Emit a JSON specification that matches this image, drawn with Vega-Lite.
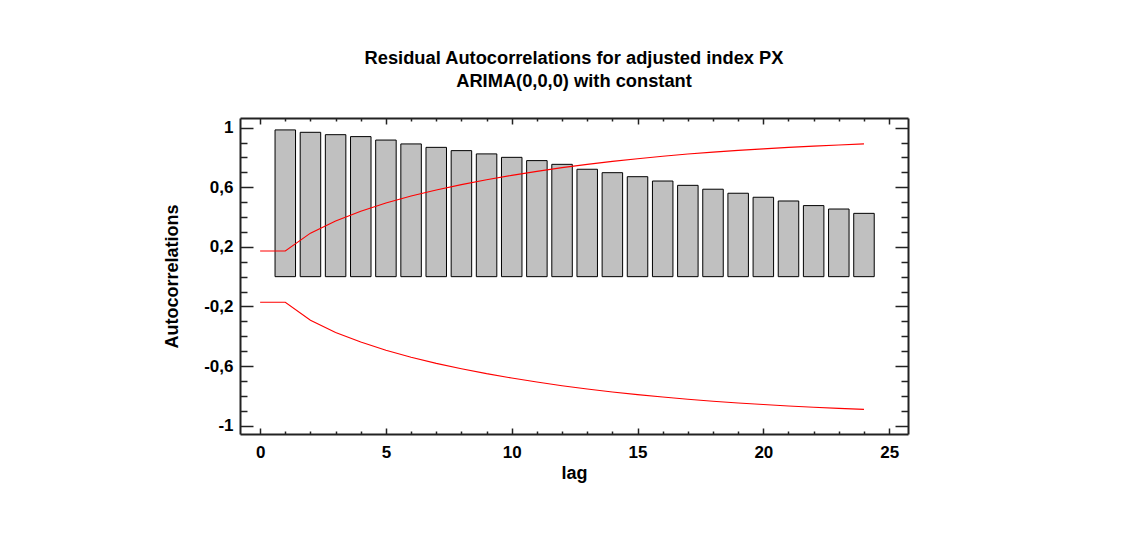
{
  "$schema": "https://vega.github.io/schema/vega-lite/v6.json",
  "autosize": "none",
  "width": 668,
  "height": 316,
  "padding": {"left": 240, "top": 118, "right": 234, "bottom": 111},
  "background": "white",
  "config": {
    "font": "Liberation Sans",
    "view": {"stroke": null},
    "axis": {
      "domainColor": "#222222",
      "domainWidth": 2,
      "tickColor": "#222222",
      "tickWidth": 1.5,
      "grid": false,
      "labelFont": "Liberation Sans",
      "labelFontSize": 17,
      "labelFontWeight": "bold",
      "labelColor": "black",
      "titleFont": "Liberation Sans",
      "titleFontSize": 18,
      "titleFontWeight": "bold",
      "titleColor": "black"
    }
  },
  "title": {
    "text": ["Residual Autocorrelations for adjusted index PX", "ARIMA(0,0,0) with constant"],
    "anchor": "middle",
    "font": "Liberation Sans",
    "fontSize": 18.3,
    "fontWeight": "bold",
    "color": "black",
    "lineHeight": 23,
    "offset": 26
  },
  "datasets": {
    "acf": [
      {"lag": 1, "r": 0.985}, {"lag": 2, "r": 0.969}, {"lag": 3, "r": 0.953}, {"lag": 4, "r": 0.94},
      {"lag": 5, "r": 0.917}, {"lag": 6, "r": 0.891}, {"lag": 7, "r": 0.868}, {"lag": 8, "r": 0.846},
      {"lag": 9, "r": 0.824}, {"lag": 10, "r": 0.801}, {"lag": 11, "r": 0.779}, {"lag": 12, "r": 0.754},
      {"lag": 13, "r": 0.721}, {"lag": 14, "r": 0.698}, {"lag": 15, "r": 0.671}, {"lag": 16, "r": 0.642},
      {"lag": 17, "r": 0.613}, {"lag": 18, "r": 0.587}, {"lag": 19, "r": 0.56}, {"lag": 20, "r": 0.533},
      {"lag": 21, "r": 0.508}, {"lag": 22, "r": 0.477}, {"lag": 23, "r": 0.454}, {"lag": 24, "r": 0.425}
    ],
    "limits": [
      {"lag": 0, "bound": "upper", "limit": 0.172}, {"lag": 1, "bound": "upper", "limit": 0.172},
      {"lag": 2, "bound": "upper", "limit": 0.292}, {"lag": 3, "bound": "upper", "limit": 0.374},
      {"lag": 4, "bound": "upper", "limit": 0.439}, {"lag": 5, "bound": "upper", "limit": 0.494},
      {"lag": 6, "bound": "upper", "limit": 0.541}, {"lag": 7, "bound": "upper", "limit": 0.582},
      {"lag": 8, "bound": "upper", "limit": 0.618}, {"lag": 9, "bound": "upper", "limit": 0.651},
      {"lag": 10, "bound": "upper", "limit": 0.68}, {"lag": 11, "bound": "upper", "limit": 0.707},
      {"lag": 12, "bound": "upper", "limit": 0.732}, {"lag": 13, "bound": "upper", "limit": 0.754},
      {"lag": 14, "bound": "upper", "limit": 0.774}, {"lag": 15, "bound": "upper", "limit": 0.792},
      {"lag": 16, "bound": "upper", "limit": 0.808}, {"lag": 17, "bound": "upper", "limit": 0.823},
      {"lag": 18, "bound": "upper", "limit": 0.836}, {"lag": 19, "bound": "upper", "limit": 0.848},
      {"lag": 20, "bound": "upper", "limit": 0.858}, {"lag": 21, "bound": "upper", "limit": 0.868},
      {"lag": 22, "bound": "upper", "limit": 0.876}, {"lag": 23, "bound": "upper", "limit": 0.884},
      {"lag": 24, "bound": "upper", "limit": 0.891},
      {"lag": 0, "bound": "lower", "limit": -0.172}, {"lag": 1, "bound": "lower", "limit": -0.172},
      {"lag": 2, "bound": "lower", "limit": -0.292}, {"lag": 3, "bound": "lower", "limit": -0.374},
      {"lag": 4, "bound": "lower", "limit": -0.439}, {"lag": 5, "bound": "lower", "limit": -0.494},
      {"lag": 6, "bound": "lower", "limit": -0.541}, {"lag": 7, "bound": "lower", "limit": -0.582},
      {"lag": 8, "bound": "lower", "limit": -0.618}, {"lag": 9, "bound": "lower", "limit": -0.651},
      {"lag": 10, "bound": "lower", "limit": -0.68}, {"lag": 11, "bound": "lower", "limit": -0.707},
      {"lag": 12, "bound": "lower", "limit": -0.732}, {"lag": 13, "bound": "lower", "limit": -0.754},
      {"lag": 14, "bound": "lower", "limit": -0.774}, {"lag": 15, "bound": "lower", "limit": -0.792},
      {"lag": 16, "bound": "lower", "limit": -0.808}, {"lag": 17, "bound": "lower", "limit": -0.823},
      {"lag": 18, "bound": "lower", "limit": -0.836}, {"lag": 19, "bound": "lower", "limit": -0.848},
      {"lag": 20, "bound": "lower", "limit": -0.858}, {"lag": 21, "bound": "lower", "limit": -0.868},
      {"lag": 22, "bound": "lower", "limit": -0.876}, {"lag": 23, "bound": "lower", "limit": -0.884},
      {"lag": 24, "bound": "lower", "limit": -0.891}
    ]
  },
  "resolve": {"axis": {"x": "independent", "y": "independent"}},
  "layer": [
    {
      "data": {"name": "acf"},
      "mark": {"type": "bar", "width": 20.5, "fill": "#c0c0c0", "stroke": "black", "strokeWidth": 1},
      "encoding": {
        "x": {
          "field": "lag", "type": "quantitative",
          "scale": {"domain": [-0.8, 25.75], "nice": false, "zero": false, "padding": 0},
          "axis": {
            "orient": "bottom",
            "title": "lag",
            "values": [0,1,2,3,4,5,6,7,8,9,10,11,12,13,14,15,16,17,18,19,20,21,22,23,24,25],
            "tickSize": {"condition": {"test": "datum.value % 5 === 0", "value": -6}, "value": -3},
            "labelExpr": "datum.value % 5 === 0 ? datum.label : ''",
            "labelPadding": 16,
            "titlePadding": 4
          }
        },
        "y": {
          "field": "r", "type": "quantitative",
          "scale": {"domain": [-1.056, 1.065], "nice": false, "zero": false},
          "axis": {
            "orient": "left",
            "title": "Autocorrelations",
            "values": [-1,-0.9,-0.8,-0.7,-0.6,-0.5,-0.4,-0.3,-0.2,-0.1,0,0.1,0.2,0.3,0.4,0.5,0.6,0.7,0.8,0.9,1],
            "tickSize": {"condition": {"test": "abs(round(datum.value*10)) % 4 === 2", "value": -13}, "value": -7},
            "labelExpr": "abs(round(datum.value*10)) % 4 === 2 ? (datum.value < 0 ? '-' : '') + replace(format(abs(datum.value), '~g'), '.', ',') : ''",
            "labelPadding": 20,
            "titlePadding": 22
          }
        },
        "y2": {"datum": 0}
      }
    },
    {
      "data": {"name": "limits"},
      "mark": {"type": "line", "color": "#ff0000", "strokeWidth": 1.1},
      "encoding": {
        "x": {
          "field": "lag", "type": "quantitative",
          "scale": {"domain": [-0.8, 25.75], "nice": false, "zero": false, "padding": 0},
          "axis": {
            "orient": "top",
            "title": null,
            "values": [0,1,2,3,4,5,6,7,8,9,10,11,12,13,14,15,16,17,18,19,20,21,22,23,24,25],
            "tickSize": {"condition": {"test": "datum.value % 5 === 0", "value": -6}, "value": -3},
            "labels": false
          }
        },
        "y": {
          "field": "limit", "type": "quantitative",
          "scale": {"domain": [-1.056, 1.065], "nice": false, "zero": false},
          "axis": {
            "orient": "right",
            "title": null,
            "values": [-1,-0.9,-0.8,-0.7,-0.6,-0.5,-0.4,-0.3,-0.2,-0.1,0,0.1,0.2,0.3,0.4,0.5,0.6,0.7,0.8,0.9,1],
            "tickSize": {"condition": {"test": "abs(round(datum.value*10)) % 4 === 2", "value": -13}, "value": -7},
            "labels": false
          }
        },
        "detail": {"field": "bound", "type": "nominal"}
      }
    }
  ]
}
